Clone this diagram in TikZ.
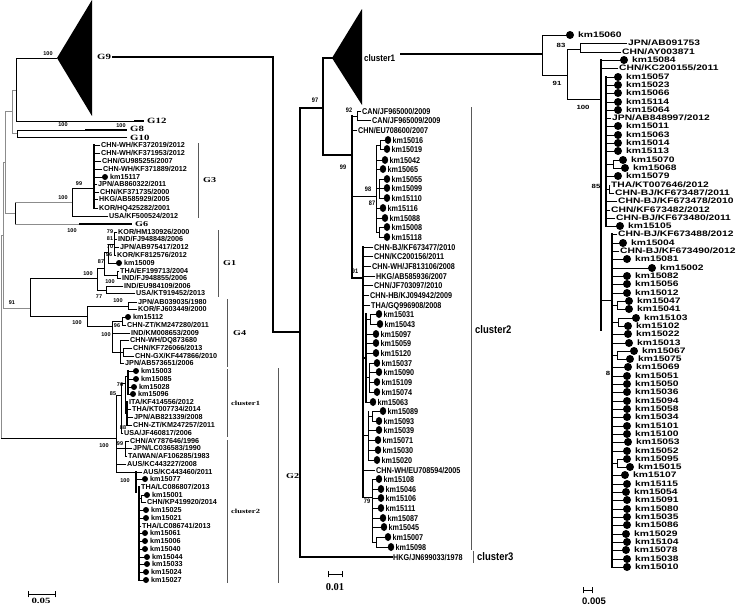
\documentclass[tikz,border=0pt]{standalone}
\usepackage{fontspec}
\setmainfont{Liberation Serif}
\newfontfamily\lsans{Liberation Sans}
\newfontfamily\msans[FakeStretch=0.86]{Liberation Sans}
\newfontfamily\rsans[FakeStretch=1.3]{Liberation Sans}
\newfontfamily\wserif[FakeStretch=1.35]{Liberation Serif}
\newcounter{lf}
\tikzset{
 br/.style={line width=0.9pt, line cap=rect},
 tk/.style={line width=1.8pt, line cap=rect},
 mk/.style={line width=1.4pt, line cap=rect},
 gb/.style={line width=0.7pt, draw=black!45, line cap=rect},
 bar/.style={line width=0.7pt, draw=black!65},
 lt/.style={anchor=west, inner sep=0pt, font=\lsans\bfseries\fontsize{7.2}{7.2}\selectfont, text height=5pt, text depth=0pt},
 mt/.style={anchor=west, inner sep=0pt, font=\msans\bfseries\fontsize{8.4}{8.4}\selectfont, text height=6pt, text depth=0pt},
 rt/.style={anchor=west, inner sep=0pt, font=\rsans\bfseries\fontsize{7.9}{7.9}\selectfont, text height=5.7pt, text depth=0pt},
 bs/.style={inner sep=0pt, font=\lsans\bfseries\fontsize{5.5}{5.5}\selectfont},
 mbs/.style={inner sep=0pt, font=\msans\bfseries\fontsize{6.5}{6.5}\selectfont},
 rbs/.style={inner sep=0pt, font=\rsans\bfseries\fontsize{6}{6}\selectfont},
 gl/.style={anchor=west, inner sep=0pt, font=\wserif\bfseries\fontsize{8}{8}\selectfont},
 gs/.style={anchor=west, inner sep=0pt, font=\wserif\bfseries\fontsize{7.5}{7.5}\selectfont},
 cl/.style={anchor=west, inner sep=0pt, font=\wserif\bfseries\fontsize{6.3}{6.3}\selectfont},
 mcl/.style={anchor=west, inner sep=0pt, font=\msans\bfseries\fontsize{11}{11}\selectfont},
}
\newcommand\LT[4]{\draw[br] (#1,#3) -- (#2-1,#3); \stepcounter{lf}\node[lt] (n\arabic{lf}) at (#2,#3) {#4};}
\newcommand\LK[4]{\draw[br] (#1,#3) -- (#2,#3); \fill (#2,#3) circle [radius=3]; \stepcounter{lf}\node[lt] (n\arabic{lf}) at (#2+5,#3) {#4};}
\newcommand\MT[4]{\draw[br] (#1,#3) -- (#2-1,#3); \stepcounter{lf}\node[mt] (n\arabic{lf}) at (#2,#3) {#4};}
\newcommand\MK[4]{\draw[br] (#1,#3) -- (#2,#3); \fill (#2,#3) ellipse [x radius=3.2, y radius=4]; \stepcounter{lf}\node[mt] (n\arabic{lf}) at (#2+4.5,#3) {#4};}
\newcommand\RT[4]{\draw[br] (#1,#3) -- (#2-1,#3); \stepcounter{lf}\node[rt] (n\arabic{lf}) at (#2,#3) {#4};}
\newcommand\RK[4]{\draw[br] (#1,#3) -- (#2,#3); \fill (#2,#3) circle [radius=4]; \stepcounter{lf}\node[rt] (n\arabic{lf}) at (#2+8,#3) {#4};}
\newcommand\BS[4]{\stepcounter{lf}\node[#1] (n\arabic{lf}) at (#2,#3) {#4};}
\begin{document}
\begin{tikzpicture}[x=1pt,y=-1pt]
\useasboundingbox (0,0) rectangle (738,605);
% ================= LEFT PANEL =================
% deep root (grey)
\draw[gb] (12,90) -- (12,133);
\draw[gb] (12,90) -- (16,90);
\draw[gb] (12,133) -- (17,133);
\draw[gb] (5,111) -- (5,213);
\draw[gb] (5,111) -- (12,111);
\draw[gb] (5,213) -- (15,213);
\draw[gb] (3,162) -- (3,308);
\draw[gb] (3,162) -- (5,162);
\draw[gb] (3,308) -- (30,308);
\draw[gb] (1,235) -- (1,438);
\draw[gb] (1,235) -- (3,235);
\BS{bs}{12}{303}{91}
% G9 / G12
\draw[br] (16,58) -- (16,121);
\draw[br] (16,58) -- (57,58);
\fill (57,58) -- (92,0) -- (92,116) -- cycle;
\BS{bs}{48}{54}{100}
\node[gl] (g9) at (97,57) {G9};
\draw[br] (16,121) -- (135,121);
\draw[tk] (135,121) -- (143,121);
\node[gl] (g12) at (147,121) {G12};
% G8 / G10
\draw[br] (17,130) -- (17,137);
\draw[br] (17,130) -- (86,130);
\draw[tk] (86,130) -- (126,130);
\BS{bs}{63}{125}{100}
\BS{bs}{121}{126}{100}
\node[gl] (g8) at (130,129) {G8};
\draw[br] (17,137) -- (127,137);
\node[gl] (g10) at (130,138) {G10};
% connector from G9 to the middle panel
\coordinate (mroot) at (300,332);
\draw[tk] ([xshift=2pt]g9.east) -| (273,332) -- (mroot);
% G3 / G6
\draw[br] (15,202) -- (15,224);
\draw[gb] (15,202) -- (72,202);
\draw[gb] (15,224) -- (80,224);
\draw[tk] (80,224) -- (131,224);
\node[gs] (g6) at (135,224) {G6};
\BS{bs}{72}{231}{100}
\draw[br] (72,188) -- (72,216);
\draw[br] (72,188) -- (94,188);
\BS{bs}{63}{198}{100}
\BS{bs}{79}{184}{99}
\draw[mk] (94,145) -- (94,208);
\LT{94}{101}{145}{CHN-WH/KF372019/2012}
\LT{94}{101}{153}{CHN-WH/KF371953/2012}
\LT{94}{102}{161}{CHN/GU985255/2007}
\LT{94}{103}{169}{CHN-WH/KF371889/2012}
\LK{94}{105}{177}{km15117}
\LT{94}{98}{184}{JPN/AB860322/2011}
\LT{94}{100}{192}{CHN/KF371735/2000}
\LT{94}{99}{199}{HKG/AB585929/2005}
\LT{94}{99}{208}{KOR/HQ425282/2001}
\LT{72}{109}{216}{USA/KF500524/2012}
% G1 / G4 node
\draw[br] (30,278) -- (30,316);
% G1
\draw[br] (30,278) -- (97,278);
\BS{bs}{88}{274}{100}
\draw[br] (97,268) -- (97,290);
\draw[br] (97,268) -- (104,268);
\draw[br] (104,252) -- (104,275);
\draw[br] (104,252) -- (108,252);
\draw[br] (108,244) -- (108,263);
\draw[br] (108,244) -- (114,244);
\draw[br] (114,232) -- (114,255);
\LT{114}{118}{232}{KOR/HM130926/2000}
\LT{114}{118}{239}{IND/FJ948848/2006}
\LT{114}{120}{247}{JPN/AB975417/2012}
\LT{114}{117}{255}{KOR/KF812576/2012}
\LK{108}{119}{263}{km15009}
\draw[br] (104,275) -- (117,275);
\draw[br] (117,271) -- (117,278);
\LT{117}{120}{271}{THA/EF199713/2004}
\LT{117}{122}{278}{IND/FJ948855/2006}
\draw[br] (97,290) -- (106,290);
\draw[br] (106,286) -- (106,293);
\LT{106}{124}{286}{IND/EU984109/2006}
\LT{106}{136}{293}{USA/KT919452/2013}
\BS{bs}{110}{232}{79}
\BS{bs}{110}{239}{81}
\BS{bs}{110}{247}{70}
\BS{bs}{109}{255}{96}
\BS{bs}{101}{262}{87}
\BS{bs}{110}{282}{100}
\BS{bs}{99}{297}{77}
% G4
\draw[br] (30,316) -- (87,316);
\draw[br] (87,306) -- (87,326);
\draw[br] (87,306) -- (128,306);
\draw[br] (128,302) -- (128,309);
\LT{128}{138}{302}{JPN/AB039035/1980}
\LT{128}{138}{309}{KOR/FJ603449/2000}
\BS{bs}{118}{301}{100}
\draw[br] (87,326) -- (112,326);
\BS{bs}{77}{323}{100}
\draw[br] (112,321) -- (112,352);
\draw[br] (112,321) -- (122,321);
\draw[br] (122,317) -- (122,325);
\LK{122}{128}{317}{km15112}
\LT{122}{127}{325}{CHN-ZT/KM247280/2011}
\BS{bs}{117}{326}{96}
\LT{112}{131}{333}{IND/KM008653/2009}
\BS{bs}{106}{335}{100}
\draw[br] (112,352) -- (120,352);
\draw[br] (120,340) -- (120,363);
\LT{120}{130}{340}{CHN-WH/DQ873680}
\draw[br] (120,352) -- (123,352);
\draw[br] (123,348) -- (123,356);
\LT{123}{133}{348}{CHN/KF726066/2013}
\LT{123}{135}{356}{CHN-GX/KF447866/2010}
\LT{120}{125}{363}{JPN/AB573651/2006}
% G2
\draw[br] (1,438) -- (116,438);
\draw[br] (116,395) -- (116,472);
\draw[br] (116,395) -- (121,395);
\draw[br] (121,383) -- (121,433);
\draw[br] (121,383) -- (125,383);
\draw[br] (125,376) -- (125,413);
\draw[br] (125,376) -- (128,376);
\draw[mk] (128,371) -- (128,394);
\LK{128}{136}{371}{km15003}
\LK{128}{136}{379}{km15085}
\LK{128}{134}{387}{km15028}
\LK{128}{133}{394}{km15096}
\draw[br] (125,413) -- (127,413);
\draw[mk] (127,402) -- (127,425);
\LT{127}{129}{402}{ITA/KF414556/2012}
\LT{127}{132}{409}{THA/KT007734/2014}
\LT{127}{134}{417}{JPN/AB821339/2008}
\LT{127}{133}{425}{CHN-ZT/KM247257/2011}
\LT{121}{124}{433}{USA/JF460817/2006}
\BS{bs}{120}{385}{76}
\BS{bs}{113}{394}{85}
\BS{bs}{123}{428}{88}
\draw[br] (116,448) -- (125,448);
\draw[br] (125,441) -- (125,456);
\LT{125}{130}{441}{CHN/AY787646/1996}
\LT{125}{133}{448}{JPN/LC036583/1990}
\LT{125}{128}{456}{TAIWAN/AF106285/1983}
\BS{bs}{104}{446}{100}
\BS{bs}{120}{444}{99}
\LT{116}{127}{464}{AUS/KC443227/2008}
\draw[br] (116,472) -- (136,472);
\BS{bs}{125}{481}{100}
\draw[mk] (136,472) -- (136,492);
\draw[tk] (139,487) -- (139,580);
\LT{136}{143}{472}{AUS/KC443460/2011}
\LK{136}{145}{479}{km15077}
\LT{139}{141}{487}{THA/LC086807/2013}
\draw[br] (139,498) -- (141,498);
\draw[br] (141,495) -- (141,502);
\LK{141}{147}{495}{km15001}
\LT{141}{147}{502}{CHN/KP419920/2014}
\LK{139}{146}{510}{km15025}
\LK{139}{146}{518}{km15021}
\LT{139}{142}{526}{THA/LC086741/2013}
\LK{139}{145}{533}{km15061}
\LK{139}{145}{541}{km15006}
\LK{139}{145}{549}{km15040}
\LK{139}{147}{557}{km15044}
\LK{139}{147}{564}{km15033}
\LK{139}{146}{572}{km15024}
\LK{139}{146}{580}{km15027}
% bars and group labels
\draw[bar] (198,143) -- (198,218);
\node[gs] (g3) at (203,180) {G3};
\draw[bar] (218,230) -- (218,297);
\node[gs] (g1) at (223,263) {G1};
\draw[bar] (227,299) -- (227,367);
\node[gs] (g4) at (233,333) {G4};
\draw[bar] (227,369) -- (227,437);
\node[cl] (lc1) at (231,403) {cluster1};
\draw[bar] (227,440) -- (227,583);
\node[cl] (lc2) at (231,511) {cluster2};
\draw[bar] (278,368) -- (278,583);
\node[gs] (g2) at (286,476) {G2};
% scale bar
\draw[br] (28,594) -- (55,594);
\draw[br] (28,591) -- (28,597);
\draw[br] (55,591) -- (55,597);
\node[inner sep=0pt, font=\wserif\bfseries\fontsize{8}{8}\selectfont] (s1) at (41,601) {0.05};
% ================= MIDDLE PANEL =================
\draw[mk] (300,108) -- (300,557);
\draw[mk] (300,108) -- (323,108);
\BS{mbs}{315}{100}{97}
\draw[mk] (323,58) -- (323,155);
\draw[mk] (323,58) -- (332,58);
\fill (332,58) -- (362,9) -- (362,105) -- cycle;
\node[mcl, font=\msans\bfseries\fontsize{9.4}{9.4}\selectfont] (mc1) at (364,58) {cluster1};
\coordinate (rroot) at (542,54);
\draw[tk] (401,54) -- (rroot);
\draw[mk] (323,155) -- (352,155);
\BS{mbs}{343}{167}{99}
\draw[mk] (352,116) -- (352,278);
\draw[br] (352,116) -- (357,116);
\draw[br] (357,111) -- (357,121);
\BS{mbs}{349}{110}{92}
\MT{357}{362}{111}{CAN/JF965000/2009}
\MT{357}{372}{120}{CAN/JF965009/2009}
\MT{352}{358}{130}{CHN/EU708600/2007}
\draw[br] (352,196) -- (376,196);
\BS{mbs}{368}{189}{98}
\BS{mbs}{372}{203}{87}
\draw[br] (376,145) -- (376,232);
\draw[br] (376,145) -- (380,145);
\draw[br] (380,140) -- (380,149);
\MK{380}{388}{140}{km15016}
\MK{380}{387}{149}{km15019}
\MK{376}{385}{160}{km15042}
\MK{376}{383}{169}{km15065}
\draw[br] (376,188) -- (379,188);
\draw[br] (379,179) -- (379,198);
\MK{379}{387}{179}{km15055}
\MK{379}{387}{188}{km15099}
\MK{379}{387}{198}{km15110}
\MK{376}{383}{208}{km15116}
\MK{376}{385}{218}{km15088}
\draw[br] (376,232) -- (379,232);
\draw[br] (379,227) -- (379,237);
\MK{379}{387}{227}{km15008}
\MK{379}{387}{237}{km15118}
\draw[mk] (352,278) -- (363,278);
\BS{mbs}{355}{271}{91}
\draw[mk] (363,247) -- (363,497);
\MT{363}{374}{247}{CHN-BJ/KF673477/2010}
\MT{363}{374}{256}{CHN/KC200156/2011}
\MT{363}{372}{266}{CHN-WH/JF813106/2008}
\MT{363}{376}{276}{HKG/AB585936/2007}
\MT{363}{374}{285}{CHN/JF703097/2010}
\MT{363}{370}{295}{CHN-HB/KJ094942/2009}
\MT{363}{371}{305}{THA/GQ996908/2008}
\draw[mk] (363,358) -- (366,358);
\draw[mk] (366,314) -- (366,402);
\draw[br] (366,319) -- (370,319);
\draw[br] (370,314) -- (370,324);
\MK{370}{379}{314}{km15031}
\MK{370}{380}{324}{km15043}
\MK{366}{376}{334}{km15097}
\MK{366}{376}{343}{km15059}
\MK{366}{376}{353}{km15120}
\draw[br] (366,377) -- (369,377);
\draw[br] (369,363) -- (369,392);
\MK{369}{377}{363}{km15037}
\MK{369}{379}{372}{km15090}
\MK{369}{377}{382}{km15109}
\MK{369}{377}{392}{km15074}
\MK{366}{373}{402}{km15063}
\draw[br] (363,435) -- (368,435);
\draw[br] (368,411) -- (368,460);
\draw[br] (368,416) -- (372,416);
\draw[br] (372,411) -- (372,421);
\MK{372}{383}{411}{km15089}
\MK{372}{379}{421}{km15093}
\MK{368}{379}{430}{km15039}
\MK{368}{378}{440}{km15071}
\MK{368}{378}{450}{km15030}
\MK{368}{377}{460}{km15020}
\MT{363}{376}{470}{CHN-WH/EU708594/2005}
\draw[br] (363,497) -- (372,497);
\BS{mbs}{367}{501}{79}
\draw[br] (372,479) -- (372,542);
\MK{372}{379}{479}{km15108}
\MK{372}{381}{489}{km15046}
\MK{372}{381}{498}{km15106}
\MK{372}{381}{508}{km15111}
\MK{372}{383}{518}{km15087}
\MK{372}{384}{527}{km15045}
\draw[br] (372,542) -- (376,542);
\draw[br] (376,537) -- (376,547);
\MK{376}{388}{537}{km15007}
\MK{376}{391}{547}{km15098}
\draw[mk] (300,557) -- (392,557);
\stepcounter{lf}\node[mt] (n\arabic{lf}) at (393,557) {HKG/JN699033/1978};
\draw[bar] (471,107) -- (471,550);
\node[mcl] (mc2) at (475,330) {cluster2};
\draw[bar] (473,551) -- (473,563);
\node[mcl] (mc3) at (477,557) {cluster3};
\draw[br] (328,574) -- (342,574);
\draw[br] (328,571) -- (328,577);
\draw[br] (342,571) -- (342,577);
\node[inner sep=0pt, font=\bfseries\fontsize{10.5}{10.5}\selectfont] (s2) at (335,587) {0.01};
% ================= RIGHT PANEL =================
\draw[br] (542,35) -- (542,75);
\RK{542}{570}{35}{km15060}
\BS{rbs}{561}{45}{83}
\draw[br] (542,75) -- (567,75);
\BS{rbs}{557}{83}{91}
\draw[br] (567,49) -- (567,99);
\draw[br] (567,49) -- (580,49);
\draw[br] (580,43) -- (580,52);
\RT{580}{628}{43}{JPN/AB091753}
\RT{580}{622}{52}{CHN/AY003871}
\draw[br] (567,99) -- (601,99);
\BS{rbs}{583}{107}{100}
\draw[tk] (601,60) -- (601,330);
\RK{601}{624}{60}{km15084}
\RT{601}{619}{68}{CHN/KC200155/2011}
\draw[mk] (606,77) -- (606,226);
\RK{606}{618}{77}{km15057}
\RK{606}{618}{85}{km15023}
\RK{606}{618}{93}{km15066}
\RK{606}{618}{102}{km15114}
\RK{606}{618}{110}{km15064}
\RT{606}{612}{118}{JPN/AB848997/2012}
\RK{606}{618}{126}{km15011}
\RK{606}{618}{135}{km15063}
\RK{606}{618}{143}{km15014}
\RK{606}{618}{151}{km15113}
\draw[br] (606,164) -- (613,164);
\draw[br] (613,160) -- (613,168);
\RK{613}{623}{160}{km15070}
\RK{613}{625}{168}{km15068}
\RK{606}{618}{176}{km15079}
\draw[br] (606,189) -- (609,189);
\draw[br] (609,185) -- (609,193);
\RT{609}{611}{185}{THA/KT007646/2012}
\RT{609}{615}{193}{CHN-BJ/KF673487/2011}
\BS{rbs}{596}{186}{85}
\RT{606}{618}{201}{CHN-BJ/KF673478/2010}
\RT{606}{611}{210}{CHN/KF673482/2012}
\RT{606}{616}{218}{CHN-BJ/KF673480/2011}
\RK{606}{620}{226}{km15105}
\draw[br] (601,300) -- (612,300);
\draw[tk] (612,234) -- (612,567);
\RT{612}{618}{234}{CHN-BJ/KF673488/2012}
\RK{612}{623}{243}{km15004}
\RT{612}{620}{251}{CHN-BJ/KF673490/2012}
\RK{612}{627}{259}{km15081}
\RK{612}{652}{268}{km15002}
\RK{612}{627}{276}{km15082}
\RK{612}{627}{284}{km15056}
\RK{612}{627}{293}{km15012}
\draw[br] (612,305) -- (617,305);
\draw[br] (617,301) -- (617,309);
\RK{617}{629}{301}{km15047}
\RK{617}{629}{309}{km15041}
\draw[br] (612,322) -- (618,322);
\draw[br] (618,318) -- (618,326);
\RK{618}{636}{318}{km15103}
\RK{618}{628}{326}{km15102}
\RK{612}{628}{334}{km15022}
\RK{612}{629}{343}{km15013}
\draw[br] (612,355) -- (617,355);
\draw[br] (617,351) -- (617,359);
\RK{617}{634}{351}{km15067}
\RK{617}{630}{359}{km15075}
\RK{612}{628}{367}{km15069}
\BS{rbs}{608}{373}{8}
\RK{612}{627}{376}{km15051}
\RK{612}{627}{384}{km15050}
\RK{612}{627}{392}{km15036}
\RK{612}{627}{401}{km15094}
\RK{612}{627}{409}{km15058}
\RK{612}{627}{417}{km15034}
\RK{612}{627}{426}{km15101}
\RK{612}{627}{434}{km15100}
\RK{612}{628}{442}{km15053}
\RK{612}{627}{451}{km15052}
\draw[br] (612,463) -- (617,463);
\draw[br] (617,459) -- (617,467);
\RK{617}{627}{459}{km15095}
\RK{617}{630}{467}{km15015}
\RK{612}{625}{475}{km15107}
\RK{612}{627}{484}{km15115}
\RK{612}{626}{492}{km15054}
\RK{612}{627}{500}{km15091}
\RK{612}{627}{509}{km15080}
\RK{612}{627}{517}{km15035}
\RK{612}{627}{525}{km15086}
\RK{612}{626}{534}{km15029}
\RK{612}{627}{542}{km15104}
\RK{612}{626}{550}{km15078}
\RK{612}{627}{559}{km15038}
\RK{612}{627}{567}{km15010}
\draw[br] (583,590) -- (592,590);
\draw[br] (583,587) -- (583,593);
\draw[br] (592,587) -- (592,593);
\node[inner sep=0pt, font=\lsans\bfseries\fontsize{9.5}{9.5}\selectfont] (s3) at (594,601) {0.005};
\end{tikzpicture}
\end{document}
